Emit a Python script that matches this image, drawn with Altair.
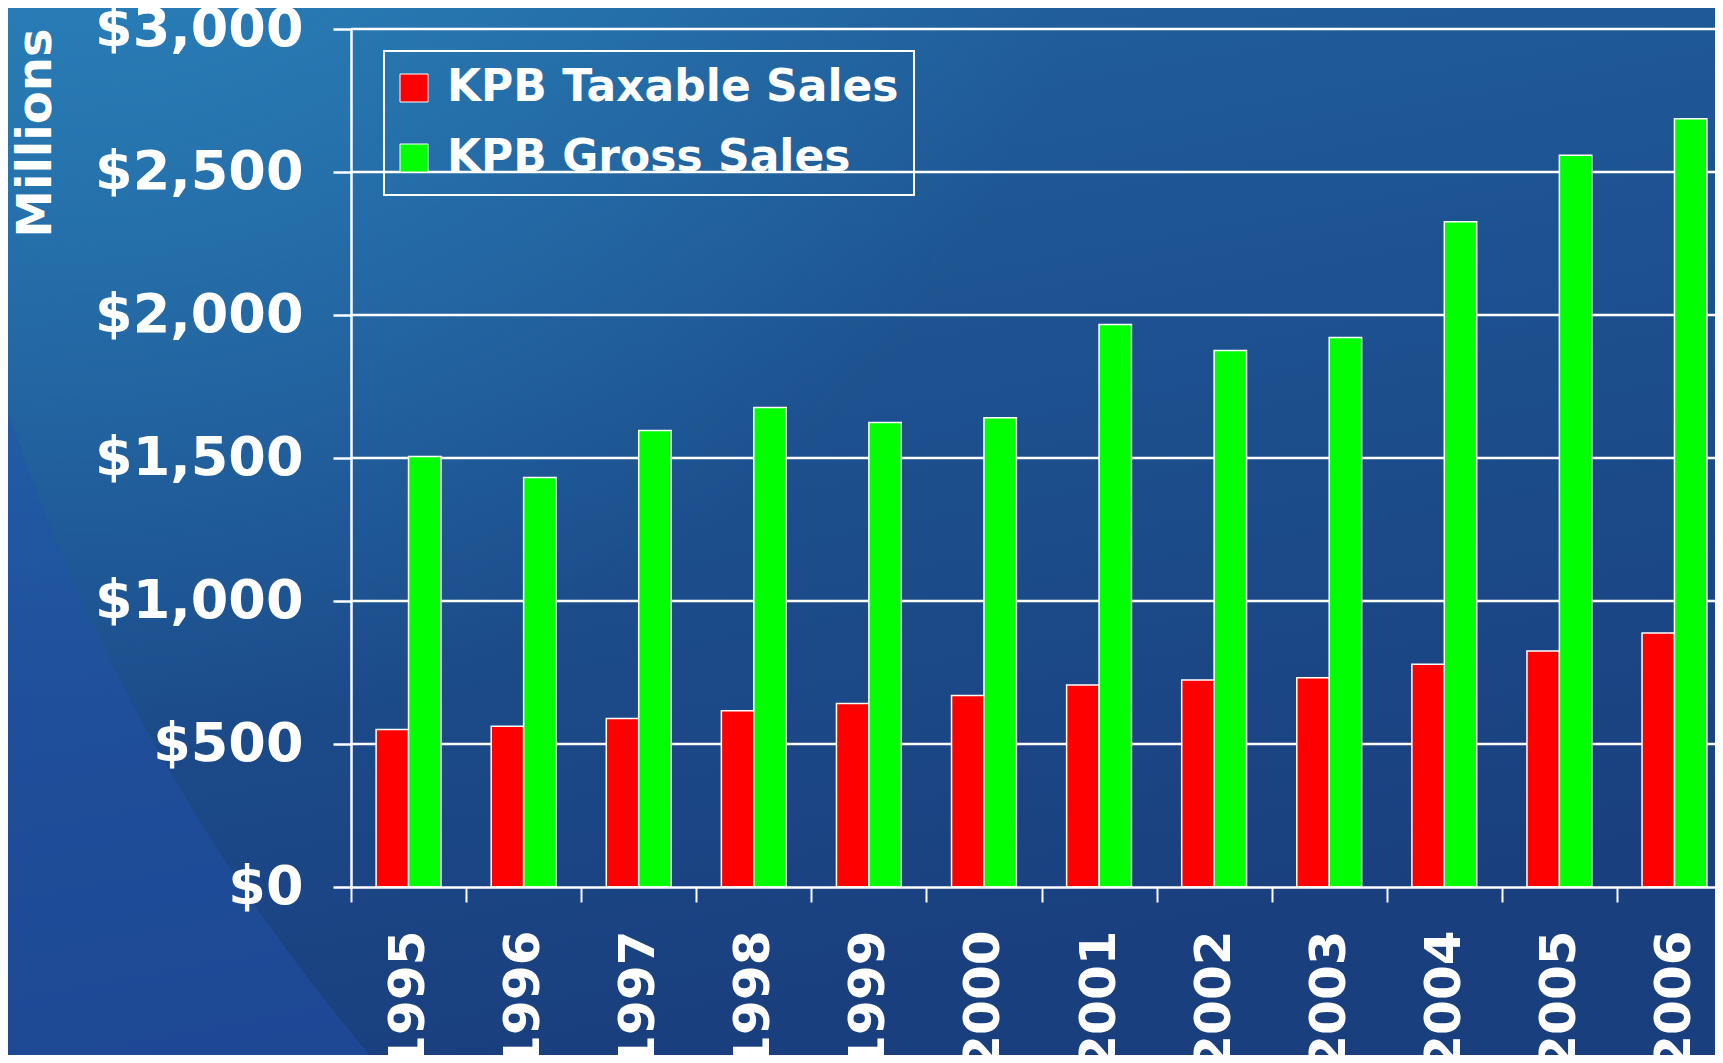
import altair as alt
import pandas as pd

# ---- data ----
years = ["1995", "1996", "1997", "1998", "1999", "2000",
         "2001", "2002", "2003", "2004", "2005", "2006"]
taxable = [551, 562, 589, 616, 642, 670, 706, 724, 732, 779, 825, 888]
gross = [1505, 1432, 1596, 1677, 1624, 1641, 1967, 1876, 1921, 2326, 2559, 2686]
series_names = ["KPB Taxable Sales", "KPB Gross Sales"]
series_colors = ["#FF0000", "#00FF00"]
y_tick_values = [0, 500, 1000, 1500, 2000, 2500, 3000]
grid_values = [500, 1000, 1500, 2000, 2500, 3000]

rows = []
for i, yr in enumerate(years):
    rows.append({"year": yr, "series": series_names[0], "value": taxable[i]})
    rows.append({"year": yr, "series": series_names[1], "value": gross[i]})
bars_df = pd.DataFrame(rows)
grid_df = pd.DataFrame({"value": grid_values})

# ---- layout ----
W, H = 1381, 858
PAD_L, PAD_T = 343, 21
SVG_W, SVG_H = 1707, 1047
FONT = "DejaVu Sans"

yscale = alt.Scale(domain=[0, 3000], nice=False, zero=True)

y_axis = alt.Axis(values=y_tick_values, format="$,.0f", grid=False,
                  labelFont=FONT, labelFontWeight="bold", labelFontSize=54,
                  labelColor="white", labelPadding=30, labelBaseline="middle",
                  labelLimit=0,
                  tickSize=18, tickColor="white", tickWidth=2.5,
                  domainColor="white", domainWidth=2.5,
                  title="Millions", titleFont=FONT, titleFontWeight="bold",
                  titleFontSize=48, titleColor="white", titleAngle=270,
                  titleX=-315, titleY=-1, titleAlign="right",
                  titleBaseline="middle", zindex=1)

one = alt.Data(values=[{"k": 1}])

bg = alt.Chart(one).mark_rect(
    color={"gradient": "linear", "x1": 0, "y1": 0, "x2": 0.3, "y2": 1,
           "stops": [{"offset": 0, "color": "#22649f"},
                     {"offset": 0.45, "color": "#1d5290"},
                     {"offset": 1, "color": "#1a3f7f"}]}
).encode(x=alt.value(-PAD_L), x2=alt.value(SVG_W - PAD_L),
         y=alt.value(-PAD_T), y2=alt.value(SVG_H - PAD_T))

glow = alt.Chart(one).mark_rect(
    color={"gradient": "radial", "x1": 0.05, "y1": 0.02, "r1": 0,
           "x2": 0.05, "y2": 0.02, "r2": 0.6,
           "stops": [{"offset": 0, "color": "rgba(46,142,198,0.8)"},
                     {"offset": 1, "color": "rgba(46,142,198,0)"}]}
).encode(x=alt.value(-PAD_L), x2=alt.value(SVG_W - PAD_L),
         y=alt.value(-PAD_T), y2=alt.value(SVG_H - PAD_T))

swoosh = alt.Chart(one).mark_arc(
    radius=3000, radius2=1963, theta=3.7, theta2=4.8,
    color="#2453ad", opacity=0.45
).encode(x=alt.value(1518), y=alt.value(-241))

rules = alt.Chart(grid_df).mark_rule(color="white", strokeWidth=2.5).encode(
    y=alt.Y("value:Q", scale=yscale, axis=y_axis)
)

bars = alt.Chart(bars_df).mark_bar(stroke="white", strokeWidth=1.5).encode(
    x=alt.X("year:N", sort=years,
            scale=alt.Scale(paddingInner=0, paddingOuter=0),
            axis=alt.Axis(title=None, labelAngle=270, labelAlign="right",
                          labelBaseline="middle",
                          labelFont=FONT, labelFontWeight="bold", labelFontSize=50,
                          labelColor="white", labelPadding=28,
                          tickSize=15, tickColor="white", tickWidth=2,
                          tickBand="extent",
                          domainColor="white", domainWidth=2.5, zindex=1)),
    xOffset=alt.XOffset("series:N", sort=series_names,
                        scale=alt.Scale(domain=series_names, paddingInner=0,
                                        paddingOuter=0.775)),
    y=alt.Y("value:Q", scale=yscale, axis=y_axis),
    color=alt.Color("series:N",
                    scale=alt.Scale(domain=series_names, range=series_colors),
                    legend=alt.Legend(title=None, orient="none", legendX=33, legendY=22,
                                      direction="vertical",
                                      labelFont=FONT, labelFontWeight="bold",
                                      labelFontSize=44, labelColor="white",
                                      labelLimit=0,
                                      symbolType="square", symbolSize=784,
                                      symbolStrokeColor="white", symbolStrokeWidth=1,
                                      symbolOffset=-7,
                                      labelOffset=11, rowPadding=26, padding=15,
                                      strokeColor="white")),
)

chart = alt.layer(bg, glow, swoosh, rules, bars).properties(
    width=W, height=H,
    autosize=alt.AutoSizeParams(type="none"),
    padding={"left": PAD_L, "top": PAD_T, "right": SVG_W - PAD_L - W,
             "bottom": SVG_H - PAD_T - H},
    background="#1d4f8c",
).configure_view(stroke=None).configure_legend(strokeWidth=2)

chart.save("out.html", embed_options={"renderer": "svg", "actions": False})
